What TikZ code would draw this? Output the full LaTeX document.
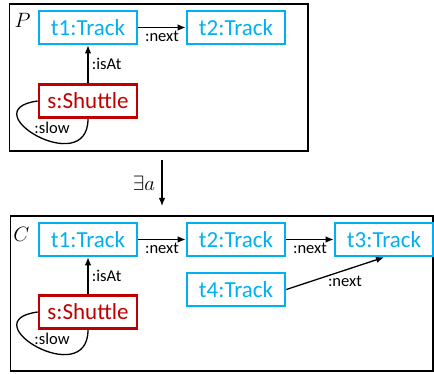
\documentclass[tikz,border=0pt]{standalone}
\usepackage{fontspec}
\setmainfont{Carlito}
\usetikzlibrary{arrows.meta}
\definecolor{trackblue}{RGB}{0,176,240}
\definecolor{shuttlered}{RGB}{192,0,0}

\begin{document}
\begin{tikzpicture}[
    x=1pt, y=-1pt,
    arrow/.style={-{Latex[length=8pt,width=6.5pt]}, line width=1.3pt},
    obj/.style={draw, line width=2.6pt, minimum width=98pt, minimum height=33pt,
        inner sep=0pt, font=\fontsize{23}{27}\selectfont},
    track/.style={obj, draw=trackblue, text=trackblue},
    shuttle/.style={obj, draw=shuttlered, text=shuttlered},
    lbl/.style={font=\fontsize{16.5}{19}\selectfont},
    frame/.style={draw, line width=1.8pt}
]
    \useasboundingbox (0,0) rectangle (434,374);

    % Pattern P
    \draw[frame] (9.5,4) rectangle (308,151);
    \node[font=\fontsize{21}{24}\selectfont] (pname) at (22.5,20) {$P$};
    \node[track] (pt1) at (88,27.5) {t1:Track};
    \node[track] (pt2) at (236,27.5) {t2:Track};
    \node[shuttle] (ps) at (88,101) {s:Shuttle};
    \draw[arrow] (pt1) -- node[lbl, below] {:next} (pt2);
    \draw[arrow] (ps) -- node[lbl, right] {:isAt} (pt1);
    \draw[line width=1.3pt] (ps.west) .. controls (-30,110) and (88,180) .. (ps.south);
    \node[lbl] (pslow) at (52,128) {:slow};

    % Step
    \coordinate (top) at (162,160);
    \coordinate (bot) at (162,206);
    \draw[arrow] (top) -- node[left=3pt, font=\fontsize{22}{26}\selectfont] {$\exists a$} (bot);

    % Conclusion C
    \draw[frame] (10.5,216) rectangle (433,371);
    \node[font=\fontsize{21}{24}\selectfont] (cname) at (21.5,234) {$C$};
    \node[track] (ct1) at (88,239.5) {t1:Track};
    \node[track] (ct2) at (236,239.5) {t2:Track};
    \node[track] (ct3) at (384,239.5) {t3:Track};
    \node[track] (ct4) at (236,289.5) {t4:Track};
    \node[shuttle] (cs) at (88,312) {s:Shuttle};
    \draw[arrow] (ct1) -- node[lbl, below] {:next} (ct2);
    \draw[arrow] (ct2) -- node[lbl, below] {:next} (ct3);
    \draw[arrow] (ct4.east) -- node[lbl, below, pos=0.6, yshift=-2pt] {:next} (ct3.south);
    \draw[arrow] (cs) -- node[lbl, right] {:isAt} (ct1);
    \draw[line width=1.3pt] (cs.west) .. controls (-30,321) and (88,391) .. (cs.south);
    \node[lbl] (cslow) at (52,339) {:slow};
\end{tikzpicture}
\end{document}
